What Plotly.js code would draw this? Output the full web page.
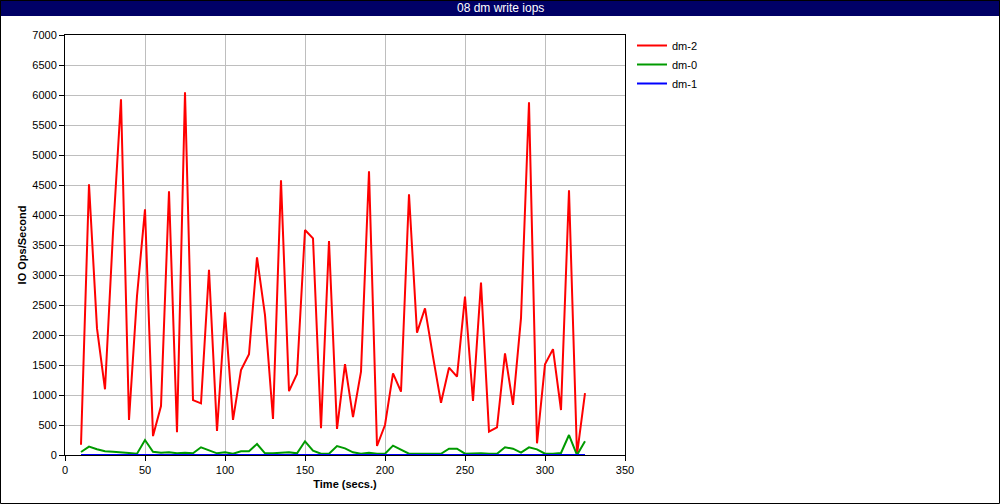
<!DOCTYPE html>
<html>
<head>
<meta charset="utf-8">
<script src="https://cdn.plot.ly/plotly-3.0.1.min.js"></script>
<style>
html,body{margin:0;padding:0;background:#fff;}
#chart{width:1000px;height:504px;}
</style>
</head>
<body>
<div id="chart"></div>
<script>
const chartTitle = "08 dm write iops";
const xTitle = "Time (secs.)";
const yTitle = "IO Ops/Second";
const seriesNames = ["dm-2", "dm-0", "dm-1"];
const seriesColors = ["#ff0000", "#009a00", "#0000ff"];

const timeSecs = [10,15,20,25,30,35,40,45,50,55,60,65,70,75,80,85,90,95,100,105,110,115,120,125,130,135,140,145,150,155,160,165,170,175,180,185,190,195,200,205,210,215,220,225,230,235,240,245,250,255,260,265,270,275,280,285,290,295,300,305,310,315,320,325];

const dm2 = [170,4510,2110,1095,3700,5930,585,2650,4095,315,815,4395,380,6045,915,860,3085,400,2380,585,1415,1680,3295,2330,600,4580,1065,1350,3750,3610,445,3565,435,1515,630,1390,4730,150,500,1360,1055,4345,2040,2445,1640,870,1455,1305,2640,900,2875,390,460,1695,835,2280,5880,195,1510,1765,750,4410,5,1030];

const dm0 = [50,139,95,61,56,50,33,22,250,55,39,44,28,39,28,128,72,28,44,22,61,61,183,28,28,33,44,28,228,72,22,22,150,111,44,22,39,22,22,156,94,22,20,20,20,20,106,106,22,28,28,20,20,128,106,39,128,94,22,20,33,333,0,228];

const dm1 = [0,0,0,0,0,0,0,0,0,0,0,0,0,0,0,0,0,0,0,0,0,0,0,0,0,0,0,0,0,0,0,0,0,0,0,0,0,0,0,0,0,0,0,0,0,0,0,0,0,0,0,0,0,0,0,0,0,0,0,0,0,0,0,0];

const xTicks = [0,50,100,150,200,250,300,350];
const yTicks = [0,500,1000,1500,2000,2500,3000,3500,4000,4500,5000,5500,6000,6500,7000];

const seriesData = [dm2, dm0, dm1];
const traces = seriesData.map((ys, i) => ({
  type: "scatter",
  mode: "lines",
  x: timeSecs,
  y: ys,
  name: seriesNames[i],
  line: {color: seriesColors[i], width: 2},
  hoverinfo: "skip"
}));

// plot area geometry (pixels)
const W = 1000, H = 504;
const mL = 65, mR = 375, mT = 35, mB = 49;
const pw = W - mL - mR, ph = H - mT - mB;
const px = v => (v - mL) / pw;
const py = v => (H - mB - v) / ph;

const fontFam = "Liberation Sans, Arial, Helvetica, sans-serif";

const layout = {
  width: W, height: H,
  margin: {l: mL, r: mR, t: mT, b: mB, pad: 0},
  paper_bgcolor: "#ffffff",
  plot_bgcolor: "#ffffff",
  font: {family: fontFam, size: 11, color: "#000"},
  showlegend: true,
  legend: {
    x: px(632), y: py(31), xanchor: "left", yanchor: "top",
    font: {family: fontFam, size: 11, color: "#000"},
    bgcolor: "rgba(0,0,0,0)", borderwidth: 0,
    tracegroupgap: 0, itemwidth: 30
  },
  xaxis: {
    range: [0, 350], tickvals: xTicks, ticktext: xTicks.map(String),
    showgrid: true, gridcolor: "#bebebe", gridwidth: 1,
    zeroline: false, showline: true, linecolor: "#000", linewidth: 1, mirror: true,
    ticks: "outside", ticklen: 5, tickcolor: "#000",
    tickfont: {family: fontFam, size: 11, color: "#000"},
    title: {text: "<b>" + xTitle + "</b>", font: {family: fontFam, size: 11, color: "#000"}, standoff: 5}
  },
  yaxis: {
    range: [0, 7000], tickvals: yTicks, ticktext: yTicks.map(String),
    showgrid: true, gridcolor: "#bebebe", gridwidth: 1,
    zeroline: false, showline: true, linecolor: "#000", linewidth: 1, mirror: true,
    ticks: "outside", ticklen: 5, tickcolor: "#000",
    tickfont: {family: fontFam, size: 11, color: "#000"},
    title: {text: "<b>" + yTitle + "</b>", font: {family: fontFam, size: 11, color: "#000"}, standoff: 3}
  },
  shapes: [
    {type: "rect", xref: "paper", yref: "paper", layer: "below",
     x0: px(0), x1: px(W), y0: py(16), y1: py(0),
     fillcolor: "#000066", line: {width: 0}},
    {type: "rect", xref: "paper", yref: "paper", layer: "above",
     x0: px(0.5), x1: px(W - 0.5), y0: py(H - 0.5), y1: py(0.5),
     fillcolor: "rgba(0,0,0,0)", line: {color: "#000", width: 1}}
  ],
  annotations: [
    {xref: "paper", yref: "paper", x: px(W / 2), y: py(8),
     xanchor: "center", yanchor: "middle", showarrow: false,
     text: chartTitle, font: {family: fontFam, size: 12, color: "#ffffff"}}
  ]
};

Plotly.newPlot("chart", traces, layout, {displayModeBar: false, staticPlot: true});
</script>
</body>
</html>
